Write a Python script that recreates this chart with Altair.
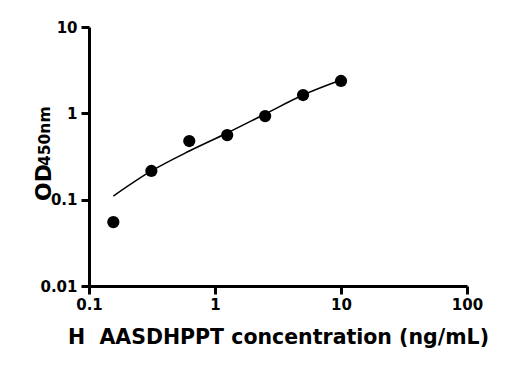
import altair as alt
import pandas as pd

conc = [0.156, 0.3125, 0.625, 1.25, 2.5, 5, 10]
od = [0.055, 0.215, 0.478, 0.56, 0.93, 1.63, 2.37]
fit_x = [0.156, 0.3125, 0.625, 1.25, 2.5, 5, 10]
fit_y = [0.110, 0.215, 0.366, 0.592, 0.983, 1.63, 2.43]
x_ticks = [0.1, 1, 10, 100]
y_ticks = [0.01, 0.1, 1, 10]

pts = pd.DataFrame({"x": conc, "y": od})
fit = pd.DataFrame({"x": fit_x, "y": fit_y})

font = "DejaVu Sans"

xs = alt.Scale(type="log", domain=[0.1, 100], nice=False)
ys = alt.Scale(type="log", domain=[0.01, 10], nice=False)

xaxis = alt.Axis(values=x_ticks, format="~g", grid=False, domainWidth=3, domainColor="black",
                 tickColor="black", tickWidth=3, tickSize=8, labelFont=font, labelFontSize=15,
                 labelFontWeight="bold", labelColor="black", labelPadding=3, labelFlush=False,
                 title="H\u00a0\u00a0AASDHPPT concentration (ng/mL)", titleFont=font, titleFontSize=20.5,
                 titleFontWeight="bold", titleColor="black", titlePadding=15)
yaxis = alt.Axis(values=y_ticks, format="~g", grid=False, domainWidth=3, domainColor="black",
                 tickColor="black", tickWidth=3, tickSize=8, labelFont=font, labelFontSize=15,
                 labelFontWeight="bold", labelColor="black", labelPadding=4, labelFlush=False, title=None)

line = alt.Chart(fit).mark_line(color="black", strokeWidth=1.5, interpolate="monotone").encode(
    x=alt.X("x:Q", scale=xs, axis=xaxis),
    y=alt.Y("y:Q", scale=ys, axis=yaxis),
)
points = alt.Chart(pts).mark_point(filled=True, color="black", size=150, opacity=1).encode(
    x=alt.X("x:Q", scale=xs),
    y=alt.Y("y:Q", scale=ys),
)
t1 = alt.Chart(pd.DataFrame({"t": ["OD"]})).mark_text(
    angle=270, align="left", baseline="alphabetic", font=font, fontSize=22, fontWeight="bold", color="black"
).encode(text="t:N", x=alt.value(-38), y=alt.value(174))
t2 = alt.Chart(pd.DataFrame({"t": ["450nm"]})).mark_text(
    angle=270, align="left", baseline="alphabetic", font=font, fontSize=15.5, fontWeight="bold", color="black"
).encode(text="t:N", x=alt.value(-39), y=alt.value(139))

chart = alt.layer(line, points, t1, t2).properties(
    width=378, height=259,
    autosize=alt.AutoSizeParams(type="none"),
    padding={"left": 81, "top": 19, "right": 41, "bottom": 76},
).configure_view(stroke=None)

chart.save("out.html", embed_options={"renderer": "svg", "actions": False})
